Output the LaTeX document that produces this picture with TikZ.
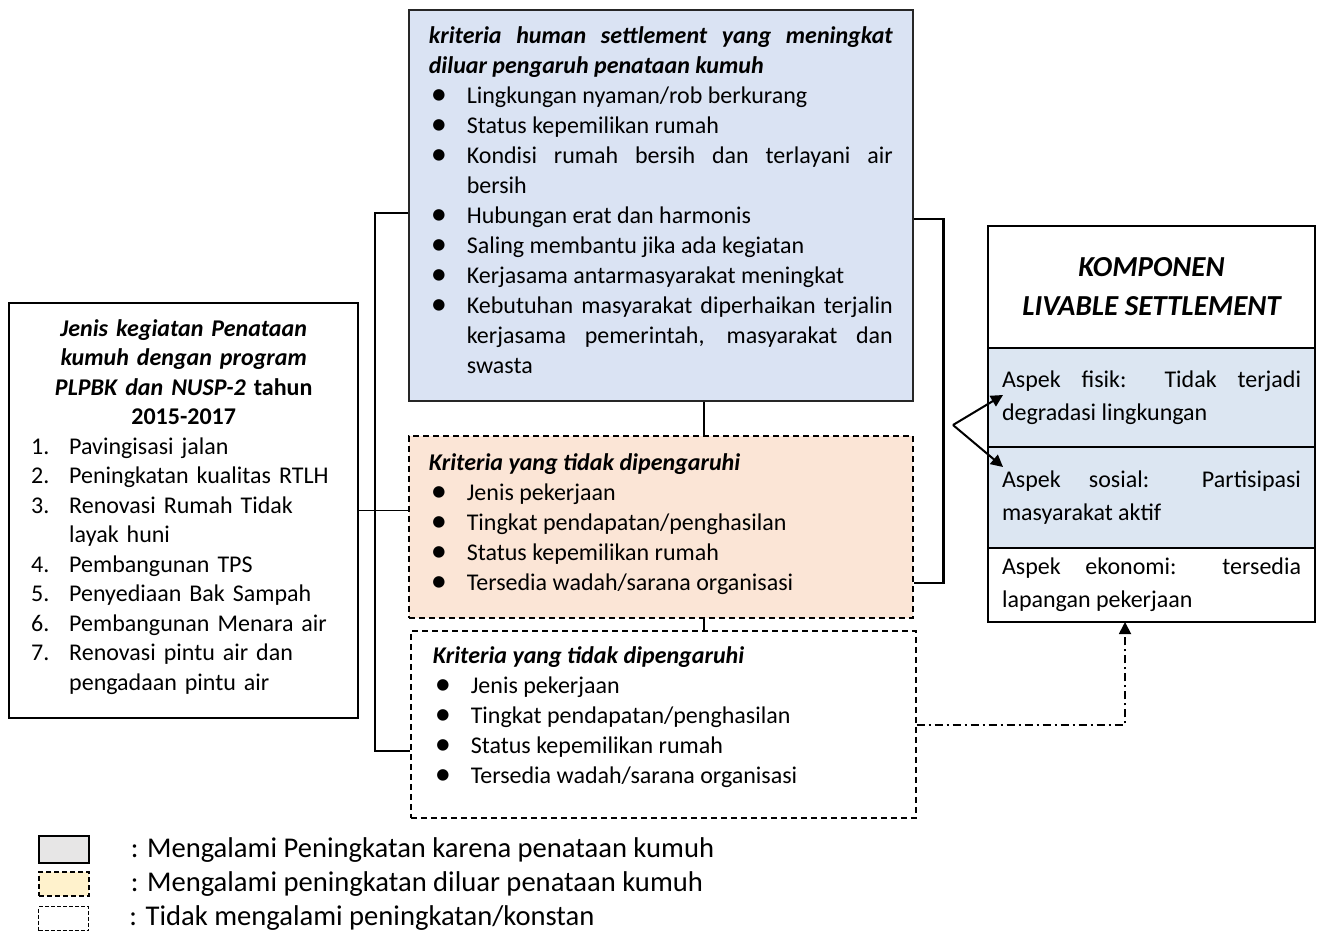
\documentclass[tikz,border=0pt]{standalone}
\usepackage{fontspec}
\setmainfont{Carlito}
\usetikzlibrary{arrows.meta,positioning}

\definecolor{critblue}{HTML}{DAE3F3}
\definecolor{critpeach}{HTML}{FBE5D6}
\definecolor{aspblue}{HTML}{DCE6F2}
\definecolor{leggray}{HTML}{E7E6E6}
\definecolor{legyellow}{HTML}{FFF2CC}

\newcommand{\pxscl}{0.5}
\newcommand{\cx}[1]{#1*\pxscl pt}
\newcommand{\cy}[1]{-#1*\pxscl pt}
\newcommand{\bodyfont}{\fontsize{12}{15}\selectfont}
\newcommand{\aspfont}{\fontsize{12}{16.5}\selectfont}
\newcommand{\bitem}[1]{\par\noindent\hangindent=19pt\hangafter=1\makebox[19pt][l]{\hspace{1pt}\raisebox{-0.5pt}{\scalebox{1.35}{\textbullet}}}#1}
\newcommand{\nitem}[2]{\par\noindent\hangindent=19pt\hangafter=1\makebox[19pt][l]{#1.}#2}
\newcommand{\txtbox}{\node[anchor=north west, font=\bodyfont, align=justify, inner ysep=0pt]}
\newcommand{\solidbox}{\txtbox[draw, line width=1.2pt]}
\newcommand{\dashedbox}{\txtbox[draw, line width=0.8pt, dash pattern=on 3pt off 2pt]}
\newcommand{\aspbox}{\node[draw, line width=1.2pt, outer sep=0pt, font=\aspfont, align=justify, text width=149.5pt, inner xsep=7pt, inner ysep=0pt]}
\newcommand{\legbox}{\node[draw, anchor=north west, minimum width=25pt]}
\newcommand{\legtxt}{\node[font=\fontsize{14.3}{17}\selectfont, inner sep=0pt]}

\begin{document}
\begin{tikzpicture}[
    bracket/.style={line width=1.2pt},
    forkarrow/.style={line width=1pt, -{Triangle[length=6pt, width=6pt]}},
    ddarrow/.style={line width=0.9pt, dash pattern=on 4pt off 2pt on 1pt off 2pt, -{Triangle[length=6pt, width=6pt]}}
  ]
  \useasboundingbox (\cx{0},\cy{0}) rectangle (\cx{1317},\cy{932});

  \solidbox[draw=black!85, line width=0.8pt, fill=critblue, text width=232pt, inner xsep=10pt, minimum height=195.5pt] (human) at (\cx{408},\cy{9})
    {\noindent{\bfseries\itshape kriteria human settlement yang meningkat\linebreak diluar pengaruh penataan kumuh}
     \bitem{Lingkungan nyaman/rob berkurang}
     \bitem{Status kepemilikan rumah}
     \bitem{Kondisi rumah bersih dan terlayani air\linebreak bersih}
     \bitem{Hubungan erat dan harmonis}
     \bitem{Saling membantu jika ada kegiatan}
     \bitem{Kerjasama antarmasyarakat meningkat}
     \bitem{Kebutuhan masyarakat diperhaikan terjalin\linebreak kerjasama pemerintah, masyarakat dan\linebreak swasta}\par
     \kern5pt};

  \solidbox[font=\fontsize{12}{14.75}\selectfont, align=left, text width=152.5pt, inner xsep=11pt, minimum height=207.5pt] (kegiatan) at (\cx{8},\cy{302})
    {{\centering\bfseries\itshape Jenis kegiatan Penataan\\ kumuh dengan program\\ PLPBK dan NUSP-2 \upshape tahun\\ 2015-2017\par}
     \nitem{1}{Pavingisasi jalan}
     \nitem{2}{Peningkatan kualitas RTLH}
     \nitem{3}{Renovasi Rumah Tidak\newline layak huni}
     \nitem{4}{Pembangunan TPS}
     \nitem{5}{Penyediaan Bak Sampah}
     \nitem{6}{Pembangunan Menara air}
     \nitem{7}{Renovasi pintu air dan\newline pengadaan pintu air}\par
     \kern4pt};

  \dashedbox[fill=critpeach, text width=232pt, inner xsep=10pt, minimum height=91pt] (faktor) at (\cx{408},\cy{435})
    {\noindent{\bfseries\itshape Kriteria yang tidak dipengaruhi}
     \bitem{Jenis pekerjaan}
     \bitem{Tingkat pendapatan/penghasilan}
     \bitem{Status kepemilikan rumah}
     \bitem{Tersedia wadah/sarana organisasi}\par
     \kern3pt};

  \dashedbox[text width=230.5pt, inner xsep=11pt, minimum height=93.5pt] (nochg) at (\cx{410},\cy{630})
    {\noindent{\bfseries\itshape Kriteria yang tidak dipengaruhi}
     \bitem{Jenis pekerjaan}
     \bitem{Tingkat pendapatan/penghasilan}
     \bitem{Status kepemilikan rumah}
     \bitem{Tersedia wadah/sarana organisasi}\par
     \kern7pt};

  % komponen livable settlement
  \node[draw, line width=1.2pt, outer sep=0pt, anchor=north west, minimum width=163.5pt, minimum height=61pt, align=center,
        font=\fontsize{14.5}{19.5}\selectfont\bfseries\itshape] (komp) at (\cx{988},\cy{226}) {KOMPONEN\\ LIVABLE SETTLEMENT};
  \aspbox[fill=aspblue, minimum height=49.5pt, below=0pt of komp] (fisik) {Aspek fisik: Tidak terjadi\linebreak degradasi lingkungan};
  \aspbox[fill=aspblue, minimum height=50.5pt, below=0pt of fisik] (sosial) {Aspek sosial: Partisipasi\linebreak masyarakat aktif};
  \aspbox[minimum height=37pt, below=0pt of sosial] (eko) {Aspek ekonomi: tersedia\linebreak lapangan pekerjaan};

  % garis penghubung
  \coordinate (midx) at (\cx{704},0);
  \draw[bracket] ([yshift=-3.75pt]human.west) -- ++(\cx{-33},0) |- ([yshift=-13.25pt]nochg.west);
  \draw[bracket] ([yshift=-6.75pt]human.east) -- ++(\cx{30},0) |- ([yshift=-28pt]faktor.east);
  \draw[bracket] (human.south -| midx) -- (faktor.north -| midx);
  \draw[bracket] (faktor.south -| midx) -- (nochg.north -| midx);
  \draw[line width=0.5pt] (kegiatan.east) -- (kegiatan.east -| faktor.west);

  \coordinate (fork) at (\cx{953},\cy{425});
  \draw[forkarrow] (fork) -- ([xshift=7.5pt, yshift=1.25pt]fisik.west);
  \draw[forkarrow] (fork) -- ([xshift=7.5pt, yshift=15.25pt]sosial.west);

  \coordinate (ddturn) at (\cx{1125},\cy{725});
  \draw[ddarrow] (ddturn -| nochg.east) -- (ddturn) -- (ddturn |- eko.south);

  % keterangan
  \legbox[line width=1.2pt, fill=leggray, minimum height=13.5pt] (leg1) at (\cx{38},\cy{835}) {};
  \legbox[line width=1.2pt, dash pattern=on 2.5pt off 1.5pt, fill=legyellow, minimum height=12pt] (leg2) at (\cx{38},\cy{871}) {};
  \legbox[line width=0.5pt, dash pattern=on 2pt off 1pt, minimum height=12pt] (leg3) at (\cx{38},\cy{906}) {};
  \legtxt[right=20pt of leg1] (leg1txt) {: Mengalami Peningkatan karena penataan kumuh};
  \legtxt[right=20pt of leg2] (leg2txt) {: Mengalami peningkatan diluar penataan kumuh};
  \legtxt[right=20pt of leg3] (leg3txt) {: Tidak mengalami peningkatan/konstan};
\end{tikzpicture}
\end{document}
